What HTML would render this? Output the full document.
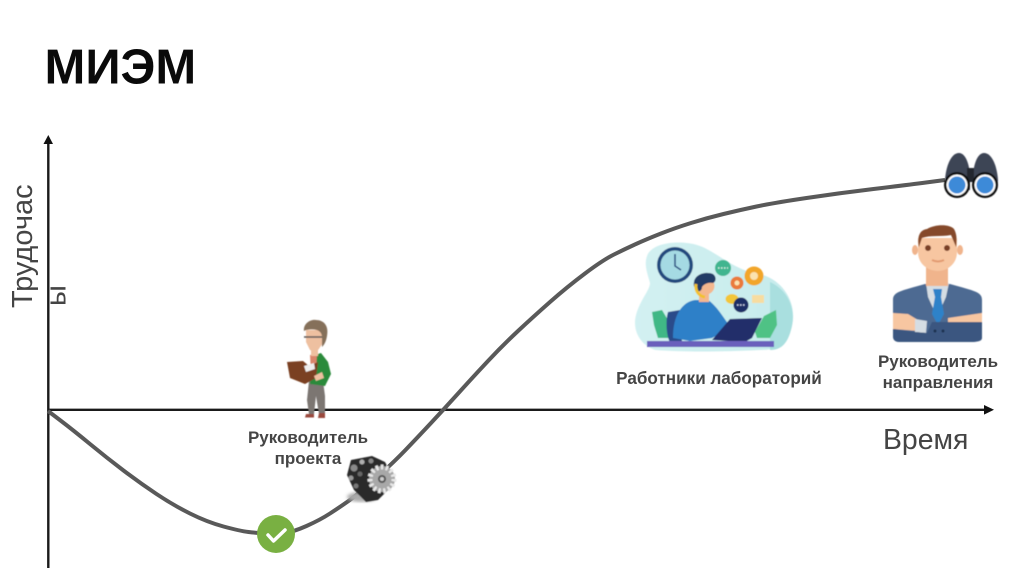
<!DOCTYPE html>
<html><head><meta charset="utf-8">
<style>
html,body{margin:0;padding:0;background:#fff}
svg{display:block}
text{font-family:"Liberation Sans",sans-serif}
</style></head><body>
<svg width="1024" height="574" viewBox="0 0 1024 574" xmlns="http://www.w3.org/2000/svg">
<defs>
<linearGradient id="blob" x1="0" y1="0" x2="1" y2="0"><stop offset="0" stop-color="#d3f1f2"/><stop offset="1" stop-color="#c6ebec"/></linearGradient>
<filter id="b1"><feGaussianBlur stdDeviation="0.5"/></filter>
<filter id="b2"><feGaussianBlur stdDeviation="1.5"/></filter>
</defs>
<rect width="1024" height="574" fill="#fff"/>
<text x="44.500" y="83.500" font-size="49" font-weight="bold" fill="#0a0a0a">МИЭМ</text>

<!-- axes -->
<line x1="48.300" y1="568" x2="48.300" y2="143" stroke="#1a1a1a" stroke-width="2.400"/>
<polygon points="48.300,135 43.500,144 53,144" fill="#111"/>
<line x1="48" y1="409.800" x2="985" y2="409.800" stroke="#1a1a1a" stroke-width="2.400"/>
<polygon points="994,409.800 984,405 984,414.600" fill="#111"/>

<!-- curve -->
<path d="M48,411 L60.500,420.500 Q73,430 90,444 Q107,458 123.500,470.500 Q140,483 156.500,494 Q173,505 190,513.500 Q207,522 223.500,526.500 Q240,531 248.500,532 Q257,533 266.500,533.500 Q276,534 284.500,533 Q293,532 306.500,526 Q320,520 330,513.500 Q340,507 348.500,501 Q357,495 375,479 Q393,463 405,450.500 Q417,438 431,423 Q445,408 459,392.500 Q473,377 488,361 Q503,345 518,331 Q533,317 550,302 Q567,287 585,273.500 Q603,260 614,254.500 Q625,249 636,244 Q647,239 661,233.500 Q675,228 691,223 Q707,218 723.500,214 Q740,210 756.500,206.500 Q773,203 806.500,198 Q840,193 873.500,189 Q907,185 926,182.500 L945,180" fill="none" stroke="#595959" stroke-width="4" stroke-linejoin="round"/>

<!-- axis labels -->
<text transform="translate(32,308) rotate(-90)" font-size="29" fill="#444">Трудочас</text>
<text transform="translate(65.500,306) rotate(-90)" font-size="29" fill="#444">ы</text>
<text x="883" y="449" font-size="28.400" fill="#444">Время</text>

<text text-anchor="middle" x="308" y="443" font-size="17" font-weight="bold" fill="#454545">Руководитель</text>
<text text-anchor="middle" x="308" y="464" font-size="17" font-weight="bold" fill="#454545">проекта</text>
<text text-anchor="middle" x="719" y="384" font-size="17.100" font-weight="bold" fill="#454545">Работники лабораторий</text>
<text text-anchor="middle" x="938" y="367" font-size="17" font-weight="bold" fill="#454545">Руководитель</text>
<text text-anchor="middle" x="938" y="388" font-size="17" font-weight="bold" fill="#454545">направления</text>

<!-- check badge -->
<circle cx="276" cy="534" r="19" fill="#79b042"/>
<path d="M268,535 L273.500,541 L285,530" fill="none" stroke="#fff" stroke-width="3.500" stroke-linecap="round" stroke-linejoin="round"/>

<!-- engine -->
<g filter="url(#b1)">
<ellipse cx="362" cy="497" rx="15" ry="5" fill="#aaa" filter="url(#b2)"/>
<path d="M351,460 L372,456 L385,462 L392,475 L388,490 L378,500 L366,502 L354,490 L347,475Z" fill="#2c2c2c"/>
<circle cx="354" cy="468" r="3.500" fill="#8a8a8a"/>
<circle cx="362" cy="462" r="2.500" fill="#b0b0b0"/>
<circle cx="371" cy="461" r="2.500" fill="#888"/>
<circle cx="351" cy="478" r="2.500" fill="#999"/>
<circle cx="360" cy="474" r="2.500" fill="#666"/>
<circle cx="356" cy="486" r="2.500" fill="#777"/>
<circle cx="382" cy="479" r="13" fill="#a8a8a8"/>
<circle cx="382" cy="479" r="12" fill="none" stroke="#e8e8e8" stroke-width="5" stroke-dasharray="2.500 2.500"/>
<circle cx="382" cy="479" r="4" fill="#555"/>
<circle cx="382" cy="479" r="2" fill="#ccc"/>
</g>

<!-- reader -->
<g filter="url(#b1)">
<path d="M309,381 L307,400 L309,414 L314,414 L316,396 L319,414 L325,414 L325,396 L323,381Z" fill="#7b7672"/>
<path d="M306,414 h8 v3.500 h-9z M319,413 h6 v5 h-7z" fill="#9a4a3c"/>
<path d="M312,356 L321,353 L328,362 L331,374 L325,386 L310,384Z" fill="#2c8a3a"/>
<path d="M310,355 L317,354 L316,372 L311,372Z" fill="#d9846a"/>
<path d="M287,362 L303,361 L309,366 L318,362 L316,378 L305,384 L290,378Z" fill="#7a3f20"/>
<path d="M304,366 L314,363 L315,369 L306,372Z" fill="#eee"/>
<path d="M322,372 l-8,4 l2,5 l8,-3z" fill="#eec0a0"/>
<path d="M306,330 L323,330 L323,343 L316,353 L310,350 L306,342Z" fill="#eec0a0"/>
<path d="M304,331 C303,324 310,319 316,320 C324,320 329,326 327,336 C326,342 324,345 322,347 L322,336 C321,331 317,328 306,330Z" fill="#85705a"/>
<path d="M304,337 h18" stroke="#555" stroke-width="1.500"/>
<rect x="311" y="346" width="7" height="10" fill="#eec0a0"/>
</g>

<!-- lab worker -->
<g filter="url(#b1)">
<path d="M647,256 C652,242 680,240 697,245 C715,250 735,272 763,275 C785,282 797,305 792,325 C788,345 778,350 760,350 C720,352 680,352 655,350 C640,345 632,330 636,315 C640,300 650,290 650,283 C647,272 644,265 647,256Z" fill="url(#blob)"/>
<path d="M770,282 C788,290 797,310 791,330 C787,345 780,350 770,350Z" fill="#a9dfdf"/>
<path d="M652,312 L662,310 L668,320 L670,338 L658,338 L654,325Z" fill="#3fb886"/>
<path d="M755,332 L764,316 L776,310 L777,325 L770,338 L757,338Z" fill="#4fc285"/>
<circle cx="675" cy="265" r="18" fill="#234a7e"/>
<circle cx="675" cy="265" r="14.500" fill="#a5dae3"/>
<path d="M675,254 V266 L681,270" fill="none" stroke="#234a7e" stroke-width="1.500"/>
<path d="M668,312 C665,322 667,338 670,342 L682,342 L680,310Z" fill="#2c4c8a"/>
<path d="M673,338 C673,315 682,302 695,300 L708,300 C716,305 724,318 731,328 L712,338 L690,341Z" fill="#2f80c8"/>
<rect x="699" y="290" width="10" height="12" fill="#f4b78e"/>
<circle cx="706" cy="286" r="8.500" fill="#f4b78e"/>
<path d="M694,282 C695,274 706,271 713,274 C717,277 716,282 713,283 C708,282 704,284 702,287 C702,290 700,292 698,291 C695,289 693,286 694,282Z" fill="#223a66"/>
<path d="M696,284 C695,290 698,296 705,297" fill="none" stroke="#f2c12e" stroke-width="3"/>
<path d="M712,340 L730,319 L762,318 L752,338 L745,342Z" fill="#222f6b"/>
<rect x="647" y="341" width="127" height="6" fill="#6a60bc"/>
<circle cx="723" cy="268" r="8" fill="#3fb58f"/>
<circle cx="754" cy="276" r="9.500" fill="#f2a62a"/><circle cx="754" cy="276" r="4" fill="#fbe3b0"/>
<circle cx="737" cy="283" r="6.500" fill="#ea7a3a"/><circle cx="737" cy="283" r="2.500" fill="#fbe3b0"/>
<ellipse cx="732" cy="299" rx="6.500" ry="5" fill="#f2c637"/>
<circle cx="741" cy="305" r="7.500" fill="#1f2f66"/>
<path d="M737,305 h8" stroke="#cfd6ee" stroke-width="1.500" stroke-dasharray="1.500 1.500"/>
<path d="M718,268 h10" stroke="#d5f2e6" stroke-width="1.500" stroke-dasharray="1.500 1.500"/>
<rect x="752" y="295" width="12" height="8" fill="#f7dca0"/>
</g>

<!-- binoculars -->
<g filter="url(#b1)">
<path d="M945,180 C946,166 951,153 959,153 C966,153 970,166 970,178 L970,190 L946,190Z" fill="#3d4455"/>
<path d="M973,178 C973,166 977,153 984,153 C992,153 997,166 998,180 L997,190 L975,190Z" fill="#3d4455"/>
<rect x="967" y="168" width="7" height="14" fill="#22262f"/>
<circle cx="957" cy="185" r="13" fill="#111"/><circle cx="957" cy="185" r="10.500" fill="#fff"/><circle cx="957" cy="185" r="8.500" fill="#3c8ad8"/>
<circle cx="985" cy="185" r="13" fill="#111"/><circle cx="985" cy="185" r="10.500" fill="#fff"/><circle cx="985" cy="185" r="8.500" fill="#3c8ad8"/>
</g>

<!-- manager -->
<g filter="url(#b1)">
<path d="M893,300 C893,292 900,291 925,284 L950,284 C975,291 982,292 982,300 L982,336 C982,341 978,342 970,342 L900,342 C895,342 893,340 893,336Z" fill="#4d6a92"/>
<path d="M926,283 h23 l-3,14 l-9,20 l-9,-20z" fill="#d5dde3"/>
<path d="M933,289 h9 l-1,8 l3,17 l-6,11 l-6,-11 l3,-17z" fill="#2d82c9"/>
<rect x="926" y="262" width="22" height="24" fill="#f0b48c"/>
<ellipse cx="915" cy="250" rx="3" ry="5" fill="#f0b48c"/><ellipse cx="960" cy="250" rx="3" ry="5" fill="#f0b48c"/>
<path d="M918,238 h39 v14 c0,12 -10,19 -19,19 c-10,0 -20,-7 -20,-19z" fill="#f7c6a1"/>
<path d="M919,247 C917,238 919,230 927,229 C935,224 950,224 954,229 C957,234 957,241 956,247 L951,235 C940,237 930,235 922,238Z" fill="#85492c"/>
<circle cx="928" cy="248" r="3" fill="#7a4028"/><circle cx="947" cy="248" r="3" fill="#7a4028"/>
<path d="M932,260 q6,3 12,0" stroke="#e29a70" stroke-width="2" fill="none"/>
<path d="M893,313 L908,314 L918,320 L918,331 L893,329Z" fill="#f7c6a1"/>
<path d="M915,319 L927,321 L926,333 L915,332Z" fill="#d5dde3"/>
<path d="M948,318 L982,313 L982,322 L948,322Z" fill="#f7c6a1"/>
<path d="M893,329 L915,332 L927,333 L932,322 L982,322 L982,338 C982,341 978,342 970,342 L900,342 C895,342 893,340 893,336Z" fill="#3a5680"/>
<circle cx="935" cy="331" r="1.500" fill="#1f3150"/><circle cx="943" cy="331" r="1.500" fill="#1f3150"/>
</g>
</svg>
</body></html>
